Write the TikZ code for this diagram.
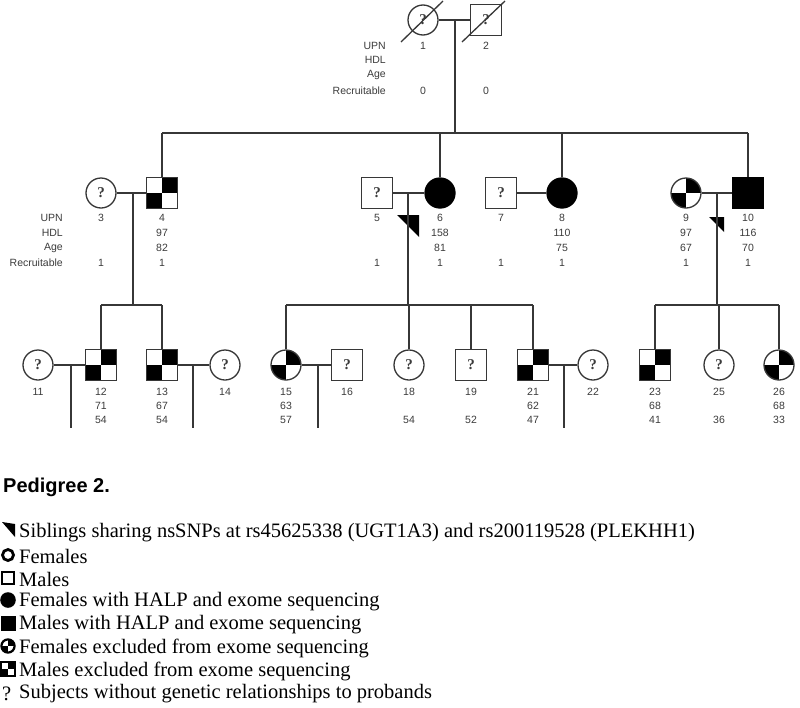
\documentclass[tikz,border=0pt]{standalone}
\usepackage{fontspec}
\setmainfont{Liberation Serif}
\newfontfamily\sansf{Liberation Sans}
\usetikzlibrary{calc}
\definecolor{ln}{RGB}{55,55,55}
\definecolor{tx}{RGB}{60,60,60}
\begin{document}
\begin{tikzpicture}[x=1pt,y=-1pt,
  link/.style={draw=ln, line width=1.3pt},
  qm/.style={font=\bfseries\fontsize{15}{15}\selectfont, text=tx},
  fem/.style={circle, draw=ln, line width=1.3pt, minimum size=30pt, inner sep=0pt, qm},
  mal/.style={rectangle, draw=ln, line width=1.3pt, minimum size=31pt, inner sep=0pt, qm},
  aff/.style={fill=black, draw=black},
  quad/.style={path picture={\fill[black] (path picture bounding box.center) rectangle (path picture bounding box.north east); \fill[black] (path picture bounding box.center) rectangle (path picture bounding box.south west);}},
  lbl/.style={font=\sansf\fontsize{10.5}{10.5}\selectfont, text=tx, inner sep=0pt},
  rowlbl/.style={lbl, anchor=east},
  leg/.style={font=\fontsize{20.5}{20.5}\selectfont, inner sep=0pt, anchor=west},
  ]
\useasboundingbox (0,0) rectangle (800,707);
\fill[white] (0,0) rectangle (800,707);

% ---------- Generation I ----------
\node[fem] (n1) at (423,20) {?};
\node[mal] (n2) at (486,20) {?};
\draw[link] (n1) -- (n2);
\draw[link] ($(n1)+(-22,22)$) -- ($(n1)+(20,-19)$);
\draw[link] ($(n2)+(-24,22)$) -- ($(n2)+(19,-19)$);
\node[rowlbl] (r1a) at (386,46) {UPN};
\node[rowlbl] (r1b) at (386,60) {HDL};
\node[rowlbl] (r1c) at (386,75) {Age};
\node[rowlbl] (r1d) at (386,91) {Recruitable};
\node[lbl] (u1) at (423,46) {1};
\node[lbl] (u2) at (486,46) {2};
\node[lbl] (c1) at (423,91) {0};
\node[lbl] (c2) at (486,91) {0};

% ---------- Generation II ----------
\coordinate (s1L) at (162,133);
\coordinate (s1R) at (748,133);
\coordinate (d12) at (455,20);
\draw[link] (d12) -- (d12 |- s1L);
\draw[link] (s1L) -- (s1R);

\node[fem] (n3) at (101,193) {?};
\node[mal, quad] (n4) at (162,193) {};
\node[mal] (n5) at (377,193) {?};
\node[fem, aff] (n6) at (440,193) {};
\node[mal] (n7) at (501,193) {?};
\node[fem, aff] (n8) at (562,193) {};
\node[fem, quad] (n9) at (686,193) {};
\node[mal, aff] (n10) at (748,193) {};

\foreach \n in {n4,n6,n8,n10} \draw[link] (\n.north) -- (\n.north |- s1L);
\draw[link] (n3) -- (n4);
\draw[link] (n5) -- (n6);
\draw[link] (n7) -- (n8);
\draw[link] (n9) -- (n10);

\fill[black] (397,215) -- (419,215) -- (419,237) -- cycle;
\fill[black] (709,217) -- (724,217) -- (724,232) -- cycle;

\node[rowlbl] (r2a) at (63,218) {UPN};
\node[rowlbl] (r2b) at (63,233) {HDL};
\node[rowlbl] (r2c) at (63,248) {Age};
\node[rowlbl] (r2d) at (63,263) {Recruitable};

\node[lbl] (u3) at (101,218) {3};   \node[lbl] (c3) at (101,263) {1};
\node[lbl] (u4) at (162,218) {4};   \node[lbl] (h4) at (162,233) {97};
\node[lbl] (a4) at (162,248) {82};  \node[lbl] (c4) at (162,263) {1};
\node[lbl] (u5) at (377,218) {5};   \node[lbl] (c5) at (377,263) {1};
\node[lbl] (u6) at (440,218) {6};   \node[lbl] (h6) at (440,233) {158};
\node[lbl] (a6) at (440,248) {81};  \node[lbl] (c6) at (440,263) {1};
\node[lbl] (u7) at (501,218) {7};   \node[lbl] (c7) at (501,263) {1};
\node[lbl] (u8) at (562,218) {8};   \node[lbl] (h8) at (562,233) {110};
\node[lbl] (a8) at (562,248) {75};  \node[lbl] (c8) at (562,263) {1};
\node[lbl] (u9) at (686,218) {9};   \node[lbl] (h9) at (686,233) {97};
\node[lbl] (a9) at (686,248) {67};  \node[lbl] (c9) at (686,263) {1};
\node[lbl] (u10) at (748,218) {10}; \node[lbl] (h10) at (748,233) {116};
\node[lbl] (a10) at (748,248) {70}; \node[lbl] (c10) at (748,263) {1};

% ---------- Generation III ----------
\coordinate (sAL) at (101,305); \coordinate (sAR) at (162,305);
\coordinate (sBL) at (286,305); \coordinate (sBR) at (533,305);
\coordinate (sCL) at (655,305); \coordinate (sCR) at (779,305);
\coordinate (d34) at (133,193);
\coordinate (d56) at (408,193);
\coordinate (d910) at (717,193);
\draw[link] (d34) -- (d34 |- sAL);
\draw[link] (d56) -- (d56 |- sBL);
\draw[link] (d910) -- (d910 |- sCL);
\draw[link] (sAL) -- (sAR);
\draw[link] (sBL) -- (sBR);
\draw[link] (sCL) -- (sCR);

\node[fem] (n11) at (38,365) {?};
\node[mal, quad] (n12) at (101,365) {};
\node[mal, quad] (n13) at (162,365) {};
\node[fem] (n14) at (225,365) {?};
\node[fem, quad] (n15) at (286,365) {};
\node[mal] (n16) at (347,365) {?};
\node[fem] (n18) at (409,365) {?};
\node[mal] (n19) at (471,365) {?};
\node[mal, quad] (n21) at (533,365) {};
\node[fem] (n22) at (593,365) {?};
\node[mal, quad] (n23) at (655,365) {};
\node[fem] (n25) at (719,365) {?};
\node[fem, quad] (n26) at (779,365) {};

\foreach \n in {n12,n13} \draw[link] (\n.north) -- (\n.north |- sAL);
\foreach \n in {n15,n18,n19,n21} \draw[link] (\n.north) -- (\n.north |- sBL);
\foreach \n in {n23,n25,n26} \draw[link] (\n.north) -- (\n.north |- sCL);

\draw[link] (n11) -- (n12);
\draw[link] (n13) -- (n14);
\draw[link] (n15) -- (n16);
\draw[link] (n21) -- (n22);
\coordinate (e1) at (71,365);  \coordinate (e2) at (193,365);
\coordinate (e3) at (318,365); \coordinate (e4) at (564,365);
\coordinate (bot) at (0,428);
\foreach \e in {e1,e2,e3,e4} \draw[link] (\e) -- (\e |- bot);

\node[lbl] (u11) at (38,392) {11};
\node[lbl] (u12) at (101,392) {12}; \node[lbl] (h12) at (101,406) {71}; \node[lbl] (a12) at (101,420) {54};
\node[lbl] (u13) at (162,392) {13}; \node[lbl] (h13) at (162,406) {67}; \node[lbl] (a13) at (162,420) {54};
\node[lbl] (u14) at (225,392) {14};
\node[lbl] (u15) at (286,392) {15}; \node[lbl] (h15) at (286,406) {63}; \node[lbl] (a15) at (286,420) {57};
\node[lbl] (u16) at (347,392) {16};
\node[lbl] (u18) at (409,392) {18}; \node[lbl] (a18) at (409,420) {54};
\node[lbl] (u19) at (471,392) {19}; \node[lbl] (a19) at (471,420) {52};
\node[lbl] (u21) at (533,392) {21}; \node[lbl] (h21) at (533,406) {62}; \node[lbl] (a21) at (533,420) {47};
\node[lbl] (u22) at (593,392) {22};
\node[lbl] (u23) at (655,392) {23}; \node[lbl] (h23) at (655,406) {68}; \node[lbl] (a23) at (655,420) {41};
\node[lbl] (u25) at (719,392) {25}; \node[lbl] (a25) at (719,420) {36};
\node[lbl] (u26) at (779,392) {26}; \node[lbl] (h26) at (779,406) {68}; \node[lbl] (a26) at (779,420) {33};

% ---------- Legend ----------
\node[anchor=west, inner sep=0pt, font=\sansf\bfseries\fontsize{20}{20}\selectfont] (title) at (3,487) {Pedigree 2.};

\fill[black] (2,522) -- (15,524) -- (15,537) -- cycle;
\node[leg] (t1) at (19,533) {Siblings sharing nsSNPs at rs45625338 (UGT1A3) and rs200119528 (PLEKHH1)};
\draw[black, line width=2.8pt] (8,555) circle (5.5);
\node[leg] (t2) at (19,556) {Females};
\draw[black, line width=2.8pt] (2,572) rectangle (14,584);
\node[leg] (t3) at (19,579) {Males};
\fill[black] (8,600) circle (7.8);
\node[leg] (t4) at (19,602) {Females with HALP and exome sequencing};
\fill[black] (1,616) rectangle (16,631);
\node[leg] (t5) at (19,625) {Males with HALP and exome sequencing};
\begin{scope}
\clip (8,646) circle (7);
\fill[black] (8,646) rectangle (16,638);
\fill[black] (8,646) rectangle (0,654);
\end{scope}
\draw[black, line width=2.2pt] (8,646) circle (6.6);
\node[leg] (t6) at (19,648) {Females excluded from exome sequencing};
\fill[black] (8,669) rectangle (15,662);
\fill[black] (8,669) rectangle (1,676);
\draw[black, line width=2.2pt] (1,662) rectangle (15,676);
\node[leg] (t7) at (19,671) {Males excluded from exome sequencing};
\node[leg] (q8) at (2,694) {?};
\node[leg] (t8) at (19,694) {Subjects without genetic relationships to probands};
\end{tikzpicture}
\end{document}
